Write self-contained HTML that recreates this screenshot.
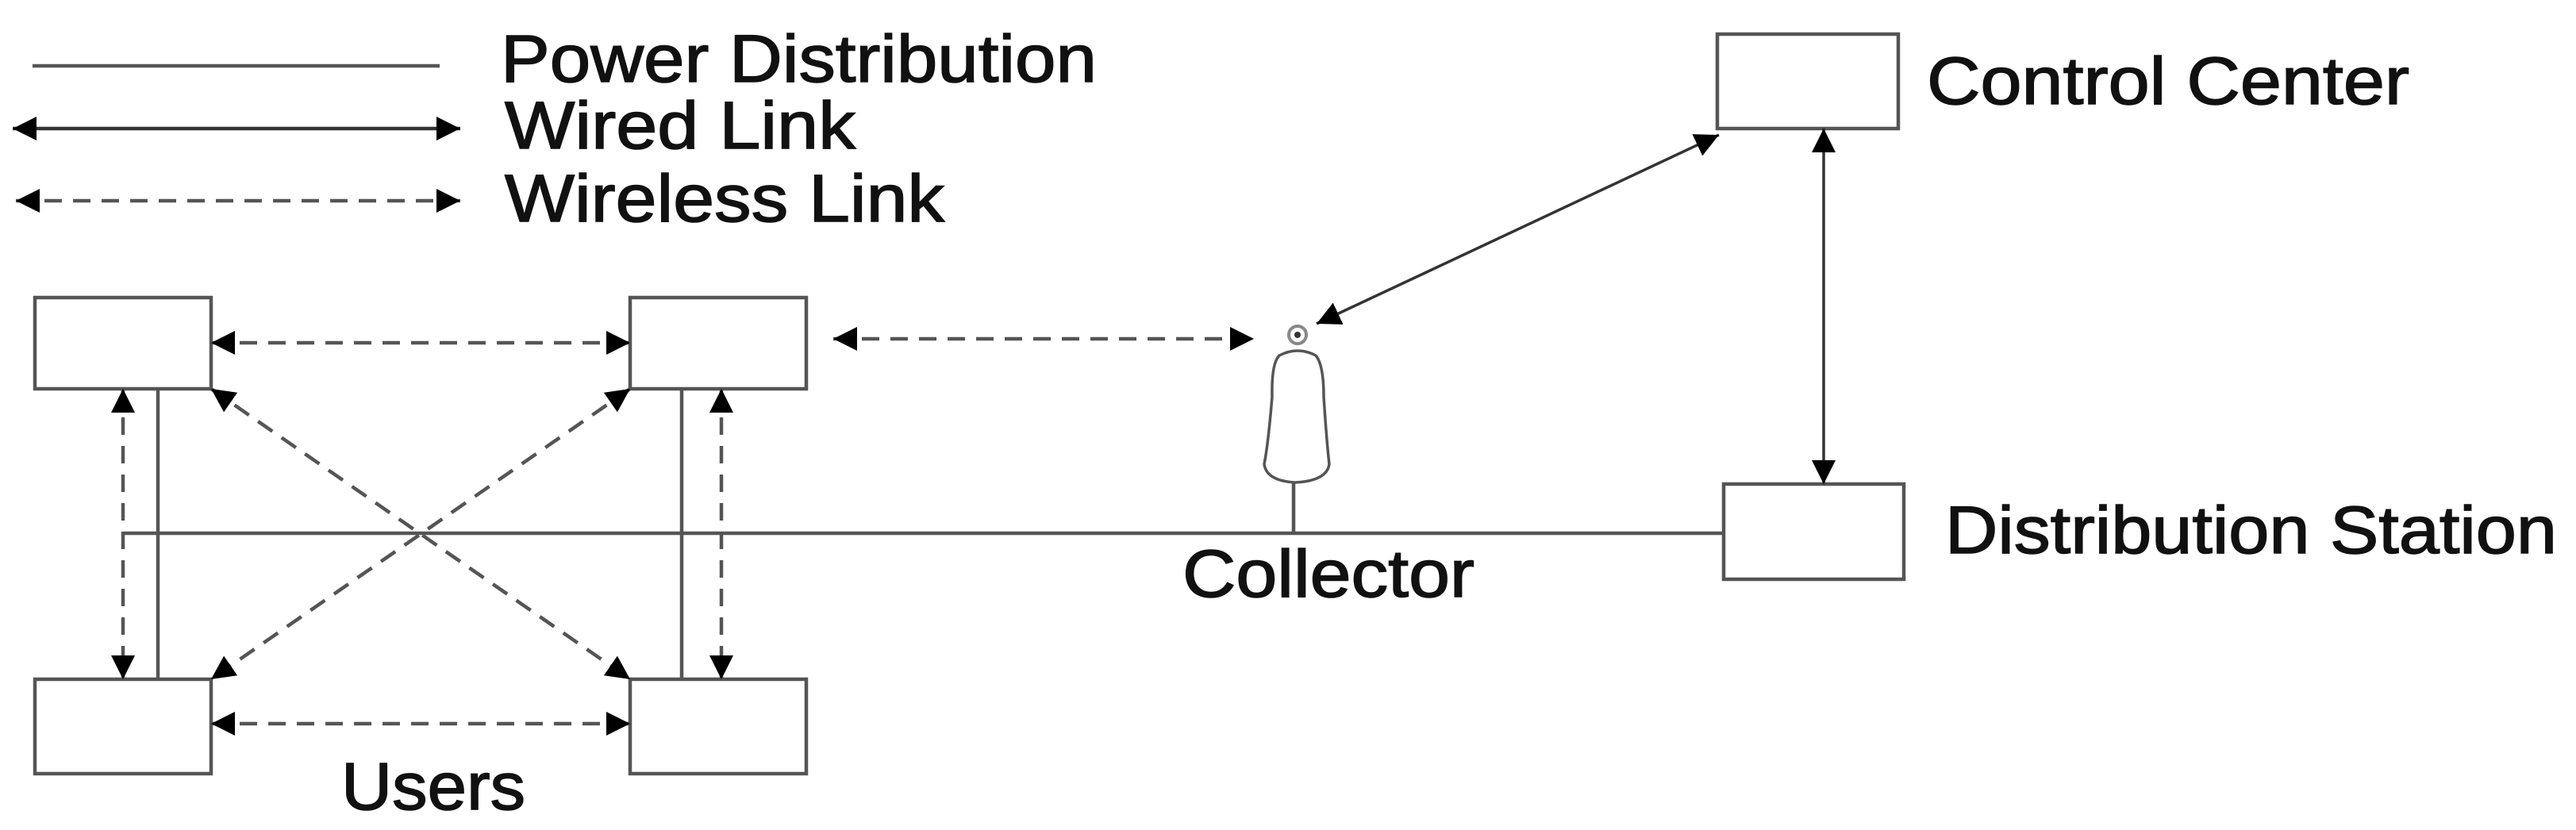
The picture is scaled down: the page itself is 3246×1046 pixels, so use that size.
<!DOCTYPE html>
<html><head><meta charset="utf-8"><style>html,body{margin:0;padding:0;background:#fff}svg{display:block}</style></head>
<body>
<svg width="3246" height="1046" viewBox="0 0 3246 1046" xmlns="http://www.w3.org/2000/svg">
<defs>
<marker id="m" viewBox="0 0 30 30" refX="30" refY="15" markerWidth="30" markerHeight="30" markerUnits="userSpaceOnUse" orient="auto-start-reverse">
<path d="M0,0 L30,15 L0,30 Z" fill="#000"/>
</marker>
</defs>
<g fill="none" stroke="#555" stroke-width="4.5">
<line x1="41" y1="83" x2="554" y2="83"/>
<line x1="16" y1="162" x2="580" y2="162" stroke="#333" marker-start="url(#m)" marker-end="url(#m)"/>
<line x1="20" y1="253" x2="580" y2="253" stroke-dasharray="22,14" marker-start="url(#m)" marker-end="url(#m)"/>
<rect x="44" y="375" width="222" height="115"/>
<rect x="794" y="375" width="222" height="115"/>
<rect x="44" y="856" width="222" height="119"/>
<rect x="794" y="856" width="222" height="119"/>
<rect x="2164" y="43" width="228" height="119"/>
<rect x="2172" y="610" width="227" height="120"/>
<line x1="155" y1="672" x2="2172" y2="672"/>
<line x1="199" y1="490" x2="199" y2="856"/>
<line x1="859" y1="490" x2="859" y2="856"/>
<line x1="1630" y1="608" x2="1630" y2="672"/>
<g stroke-dasharray="22,14">
<line x1="266" y1="432" x2="794" y2="432" marker-start="url(#m)" marker-end="url(#m)"/>
<line x1="266" y1="912" x2="794" y2="912" marker-start="url(#m)" marker-end="url(#m)"/>
<line x1="155" y1="490" x2="155" y2="856" marker-start="url(#m)" marker-end="url(#m)"/>
<line x1="909" y1="490" x2="909" y2="856" marker-start="url(#m)" marker-end="url(#m)"/>
<line x1="266" y1="490" x2="794" y2="856" marker-start="url(#m)" marker-end="url(#m)"/>
<line x1="794" y1="490" x2="266" y2="856" marker-start="url(#m)" marker-end="url(#m)"/>
<line x1="1050" y1="427" x2="1580" y2="427" marker-start="url(#m)" marker-end="url(#m)"/>
</g>
<line x1="2166" y1="170" x2="1659" y2="408" stroke="#333" stroke-width="3.5" marker-start="url(#m)" marker-end="url(#m)"/>
<line x1="2298" y1="162" x2="2298" y2="610" stroke="#333" stroke-width="3.5" marker-start="url(#m)" marker-end="url(#m)"/>
<circle cx="1635" cy="422" r="11" stroke="#888" stroke-width="4"/>
<circle cx="1635" cy="422" r="4" fill="#333" stroke="none"/>
<path d="M1612,448 Q1635,436 1658,448 Q1668,460 1668,500 Q1672,560 1675,585 Q1672,606 1632,608 Q1596,606 1593,585 Q1598,560 1603,500 Q1602,458 1612,448 Z" stroke="#555" stroke-width="3.5"/>
</g>
<g font-family="Liberation Sans, Arial, sans-serif" font-size="84" fill="#111" stroke="#111" stroke-width="1.5">
<text x="631" y="103" textLength="751" lengthAdjust="spacingAndGlyphs">Power Distribution</text>
<text x="636" y="187" textLength="442" lengthAdjust="spacingAndGlyphs">Wired Link</text>
<text x="636" y="279" textLength="554" lengthAdjust="spacingAndGlyphs">Wireless Link</text>
<text x="2428" y="131" textLength="608" lengthAdjust="spacingAndGlyphs">Control Center</text>
<text x="2451" y="697" textLength="771" lengthAdjust="spacingAndGlyphs">Distribution Station</text>
<text x="1490" y="752" textLength="368" lengthAdjust="spacingAndGlyphs">Collector</text>
<text x="430" y="1020" textLength="232" lengthAdjust="spacingAndGlyphs">Users</text>
</g>
</svg>
</body></html>
